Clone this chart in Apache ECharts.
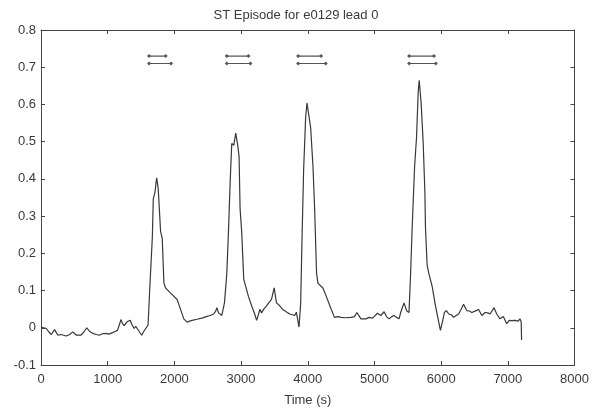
<!DOCTYPE html>
<html>
<head>
<meta charset="utf-8">
<script src="https://cdn.jsdelivr.net/npm/echarts@6/dist/echarts.min.js"></script>
<style>html,body{margin:0;padding:0;background:#fff}#c{width:592px;height:412px}</style>
</head>
<body>
<div id="c"></div>
<script>
var titleText = 'ST Episode for e0129 lead 0';
var xLabel = 'Time (s)';
var xTicks = [0, 1000, 2000, 3000, 4000, 5000, 6000, 7000, 8000];
var yTicks = [-0.1, 0, 0.1, 0.2, 0.3, 0.4, 0.5, 0.6, 0.7, 0.8];

var times = [0,40,80,120,155,204,253,300,378,430,477,530,596,640,686,730,775,830,874,920,974,1020,1073,1110,1147,1175,1198,1220,1247,1290,1336,1365,1396,1420,1445,1480,1511,1540,1570,1605,1630,1669,1684,1709,1734,1758,1793,1818,1843,1868,1920,1967,2041,2091,2141,2190,2230,2265,2340,2414,2480,2538,2588,2620,2637,2662,2690,2711,2751,2786,2811,2836,2860,2890,2920,2950,2970,2985,3009,3040,3084,3109,3158,3208,3233,3260,3283,3307,3340,3382,3420,3456,3496,3531,3580,3620,3655,3700,3730,3770,3804,3829,3869,3894,3913,3938,3968,3988,4013,4043,4078,4103,4132,4152,4227,4276,4351,4400,4450,4500,4560,4648,4700,4737,4797,4871,4920,4971,5045,5095,5145,5180,5220,5260,5294,5330,5369,5393,5443,5482,5518,5542,5567,5602,5631,5656,5671,5701,5731,5756,5765,5790,5815,5865,5915,5964,5989,6029,6048,6078,6113,6153,6187,6220,6262,6300,6336,6386,6420,6460,6525,6560,6610,6659,6700,6734,6793,6833,6883,6932,6982,7022,7057,7107,7156,7181,7200,7206];
var values = [0.002,0.0,-0.002,-0.012,-0.018,-0.005,-0.02,-0.018,-0.022,-0.018,-0.011,-0.02,-0.02,-0.012,0.0,-0.01,-0.015,-0.018,-0.02,-0.016,-0.015,-0.017,-0.013,-0.01,-0.007,0.008,0.022,0.012,0.006,0.016,0.02,0.008,-0.002,0.004,0.002,-0.012,-0.02,-0.01,-0.002,0.007,0.102,0.242,0.347,0.364,0.403,0.373,0.259,0.24,0.12,0.107,0.097,0.089,0.076,0.05,0.024,0.015,0.018,0.02,0.023,0.026,0.03,0.033,0.037,0.045,0.054,0.04,0.045,0.033,0.067,0.146,0.259,0.39,0.495,0.49,0.523,0.49,0.46,0.32,0.259,0.13,0.102,0.085,0.059,0.035,0.02,0.035,0.05,0.04,0.05,0.059,0.068,0.076,0.107,0.067,0.059,0.05,0.046,0.04,0.037,0.035,0.033,0.042,0.002,0.067,0.233,0.425,0.565,0.604,0.6,0.538,0.434,0.32,0.146,0.12,0.107,0.085,0.05,0.028,0.03,0.028,0.027,0.028,0.03,0.041,0.024,0.024,0.028,0.026,0.039,0.033,0.043,0.03,0.024,0.03,0.033,0.028,0.024,0.041,0.067,0.046,0.041,0.146,0.277,0.434,0.512,0.634,0.665,0.6,0.495,0.364,0.268,0.168,0.146,0.111,0.059,0.015,-0.007,0.024,0.041,0.046,0.037,0.035,0.028,0.032,0.037,0.05,0.063,0.046,0.045,0.041,0.046,0.05,0.033,0.041,0.04,0.037,0.054,0.037,0.024,0.03,0.011,0.02,0.019,0.02,0.018,0.024,0.016,-0.033];

var episodeStart = [1620, 2785, 3855, 5520];
var upperEnd = [1870, 3110, 4200, 5893];
var lowerEnd = [1950, 3140, 4270, 5920];
var upperLevel = 0.73;
var lowerLevel = 0.71;

var textColor = '#3a3a3a';
var axisColor = '#444';
var font = 'Liberation Sans, Arial, sans-serif';

var series = [{
  type: 'line',
  data: times.map(function (t, i) { return [t, values[i]]; }),
  showSymbol: false,
  symbol: 'none',
  lineStyle: { color: '#383838', width: 1.2 },
  animation: false,
  z: 3
}];
function addEpisode(s, e, lvl) {
  series.push({
    type: 'line',
    data: [[s, lvl], [e, lvl]],
    symbol: 'diamond',
    symbolSize: 4,
    itemStyle: { color: '#555' },
    lineStyle: { color: '#555', width: 1.2 },
    animation: false,
    z: 4
  });
}
for (var i = 0; i < episodeStart.length; i++) {
  addEpisode(episodeStart[i], upperEnd[i], upperLevel);
  addEpisode(episodeStart[i], lowerEnd[i], lowerLevel);
}

function axisBase(extra) {
  var o = {
    type: 'value',
    axisLine: { show: true, onZero: false, lineStyle: { color: axisColor, width: 1 } },
    axisTick: { inside: true, length: 4, lineStyle: { color: axisColor } },
    splitLine: { show: false }
  };
  for (var k in extra) o[k] = extra[k];
  return o;
}

var chart = echarts.init(document.getElementById('c'), null, { renderer: 'canvas' });
chart.setOption({
  backgroundColor: '#fff',
  animation: false,
  title: {
    text: titleText,
    left: 'center',
    top: 4,
    textStyle: { fontFamily: font, fontSize: 13, fontWeight: 'normal', color: textColor }
  },
  grid: { left: 41, right: 14, top: 30, bottom: 38, containLabel: false },
  xAxis: [axisBase({
    position: 'bottom',
    min: xTicks[0], max: xTicks[xTicks.length - 1], interval: 1000,
    name: xLabel, nameLocation: 'middle', nameGap: 29,
    nameTextStyle: { fontFamily: font, fontSize: 13, color: textColor },
    axisLabel: { fontFamily: font, fontSize: 13, color: textColor, margin: 8,
      formatter: function (v) { return String(v); } }
  }), axisBase({
    position: 'top',
    min: xTicks[0], max: xTicks[xTicks.length - 1], interval: 1000,
    axisLabel: { show: false }
  })],
  yAxis: [axisBase({
    position: 'left',
    min: yTicks[0], max: yTicks[yTicks.length - 1], interval: 0.1,
    axisLabel: { fontFamily: font, fontSize: 13, color: textColor, margin: 5,
      formatter: function (v) { return String(+v.toFixed(1)); } }
  }), axisBase({
    position: 'right',
    min: yTicks[0], max: yTicks[yTicks.length - 1], interval: 0.1,
    axisLabel: { show: false }
  })],
  series: series
});
</script>
</body>
</html>
